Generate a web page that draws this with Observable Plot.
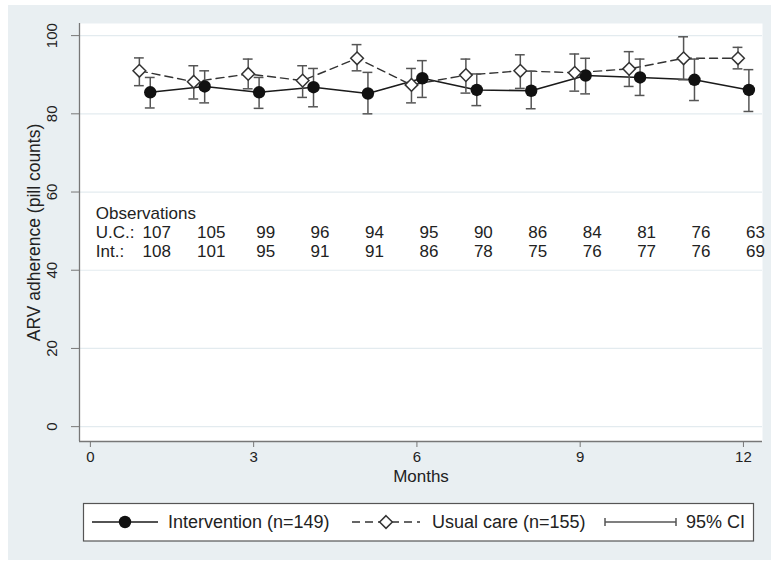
<!DOCTYPE html>
<html><head><meta charset="utf-8">
<script src="https://cdn.jsdelivr.net/npm/d3@7"></script>
<script src="https://cdn.jsdelivr.net/npm/@observablehq/plot@0.6"></script>
<style>
html,body{margin:0;padding:0;background:#fff;}
#bg{position:absolute;left:8px;top:5px;width:763px;height:555px;background:#e9eff2;}
#chart{position:absolute;left:0;top:0;}
#legend{position:absolute;left:0;top:500px;}
svg text{font-family:"Liberation Sans",Arial,sans-serif;}
</style></head><body>
<div id="bg"></div><div id="chart"></div><div id="legend"></div>
<script>
// ---- data ----
const months = [1,2,3,4,5,6,7,8,9,10,11,12];
const intMean = [85.5, 87.0, 85.5, 86.8, 85.2, 89.1, 86.1, 85.9, 89.8, 89.3, 88.7, 86.1];
const intLo   = [81.5, 82.8, 81.4, 81.8, 80.0, 84.2, 82.1, 81.3, 85.1, 84.7, 83.4, 80.6];
const intHi   = [89.3, 91.0, 89.3, 91.6, 90.6, 93.6, 90.2, 90.9, 94.2, 94.0, 94.0, 91.3];
const ucMean  = [91.0, 88.2, 90.2, 88.5, 94.2, 87.4, 89.9, 91.0, 90.5, 91.5, 94.2, 94.2];
const ucLo    = [87.2, 83.8, 86.4, 84.2, 91.0, 82.8, 85.3, 86.5, 85.8, 87.0, 88.7, 91.5];
const ucHi    = [94.3, 92.3, 94.0, 92.3, 97.7, 91.6, 94.0, 95.1, 95.3, 95.9, 99.7, 97.0];
const ucN  = [107,105,99,96,94,95,90,86,84,81,76,63];
const intN = [108,101,95,91,91,86,78,75,76,77,76,69];
const xTicks = [0,3,6,9,12];
const yTicks = [0,20,40,60,80,100];
const legendLabels = ["Intervention (n=149)", "Usual care (n=155)", "95% CI"];

// ---- styling constants ----
const off = 0.1;       // horizontal dodge between groups (months)
const cap = 0.09;      // half width of CI caps (months)
const xDom = [-0.2, 12.35];
const yDom = [-3.8, 103.1];
const ink = "#222";
const FONT = "Liberation Sans, Arial, sans-serif";

const intData = months.map((m,i)=>({x: m + off, mean: intMean[i], lo: intLo[i], hi: intHi[i]}));
const ucData  = months.map((m,i)=>({x: m - off, mean: ucMean[i], lo: ucLo[i], hi: ucHi[i]}));
const ciData = ucData.concat(intData);
const obs = months.map((m,i)=>({m, uc: ucN[i], int: intN[i]}));

const chart = Plot.plot({
  width: 771, height: 500,
  marginLeft: 79, marginRight: 9, marginTop: 23, marginBottom: 59,
  style: {background: "transparent", color: ink, fontSize: "15px", fontFamily: FONT},
  x: {domain: xDom},
  y: {domain: yDom},
  marks: [
    Plot.frame({fill: "white", stroke: "none"}),
    Plot.gridY(yTicks, {stroke: "#e3ebef", strokeOpacity: 1, strokeWidth: 1.2}),
    Plot.ruleX([xDom[0]], {stroke: "#777", strokeWidth: 1.3}),
    Plot.ruleY([yDom[0]], {stroke: "#777", strokeWidth: 1.3}),
    Plot.axisX({ticks: xTicks, tickSize: 6, tickPadding: 4, fontSize: 15, label: null, stroke: "#777"}),
    Plot.axisY({ticks: yTicks, tickSize: 8, tickFormat: () => "", label: null, stroke: "#777"}),
    Plot.text(yTicks, {y: d => d, text: d => String(d), frameAnchor: "left", dx: -27, rotate: -90, textAnchor: "middle", lineAnchor: "middle", fontSize: 15, fill: ink}),
    Plot.text(["ARV adherence (pill counts)"], {frameAnchor: "left", dx: -45, rotate: -90, textAnchor: "middle", lineAnchor: "middle", fontSize: 17.5, fill: ink}),
    Plot.text(["Months"], {frameAnchor: "bottom", dy: 40, textAnchor: "middle", fontSize: 17, fill: ink}),
    // observation counts
    Plot.text(["Observations"], {x: off, y: 54.6, textAnchor: "start", fontSize: 17, fill: ink}),
    Plot.text(["U.C.:"], {x: off, y: 49.7, textAnchor: "start", fontSize: 17, fill: ink}),
    Plot.text(["Int.:"], {x: off, y: 44.8, textAnchor: "start", fontSize: 17, fill: ink}),
    Plot.text(obs, {x: "m", y: () => 49.7, text: "uc", dx: 12, fontSize: 17, fill: ink}),
    Plot.text(obs, {x: "m", y: () => 44.8, text: "int", dx: 12, fontSize: 17, fill: ink}),
    // lines
    Plot.line(intData, {x: "x", y: "mean", stroke: "#1a1a1a", strokeWidth: 1.6}),
    Plot.line(ucData, {x: "x", y: "mean", stroke: "#333", strokeWidth: 1.4, strokeDasharray: "8,5"}),
    // confidence intervals
    Plot.ruleX(ciData, {x: "x", y1: "lo", y2: "hi", stroke: "#555", strokeWidth: 1.5}),
    Plot.ruleY(ciData, {y: "lo", x1: d => d.x - cap, x2: d => d.x + cap, stroke: "#555", strokeWidth: 1.5}),
    Plot.ruleY(ciData, {y: "hi", x1: d => d.x - cap, x2: d => d.x + cap, stroke: "#555", strokeWidth: 1.5}),
    // markers
    Plot.dot(intData, {x: "x", y: "mean", r: 6.2, fill: "#111", stroke: "none"}),
    Plot.dot(ucData, {x: "x", y: "mean", r: 5.7, symbol: "diamond2", fill: "white", stroke: "#333", strokeWidth: 1.5})
  ]
});
document.getElementById("chart").appendChild(chart);

// ---- legend (below the plot) ----
const lg = d3.select("#legend").append("svg").attr("width", 771).attr("height", 64);
lg.append("rect").attr("x", 83.5).attr("y", 3.5).attr("width", 670).attr("height", 37.5)
  .attr("fill", "white").attr("stroke", "#555").attr("stroke-width", 1.2);
const cy = 22;
lg.append("line").attr("x1", 92).attr("x2", 158).attr("y1", cy).attr("y2", cy).attr("stroke", "#1a1a1a").attr("stroke-width", 1.6);
lg.append("circle").attr("cx", 125).attr("cy", cy).attr("r", 6.2).attr("fill", "#111");
lg.append("line").attr("x1", 352).attr("x2", 420).attr("y1", cy).attr("y2", cy).attr("stroke", "#333").attr("stroke-width", 1.4).attr("stroke-dasharray", "8,5");
lg.append("path").attr("d", d3.symbol(d3.symbolDiamond2, Math.PI * 5.7 * 5.7)()).attr("transform", `translate(386,${cy})`)
  .attr("fill", "white").attr("stroke", "#333").attr("stroke-width", 1.5);
lg.append("path").attr("d", `M605,${cy}H676M605,${cy-4}V${cy+4}M676,${cy-4}V${cy+4}`).attr("stroke", "#555").attr("stroke-width", 1.5).attr("fill", "none");
[[168, legendLabels[0]], [432, legendLabels[1]], [686, legendLabels[2]]].forEach(([x, t]) => {
  lg.append("text").attr("x", x).attr("y", cy).attr("dy", "0.35em").attr("font-size", 18).attr("fill", ink).text(t);
});
</script>
</body></html>
